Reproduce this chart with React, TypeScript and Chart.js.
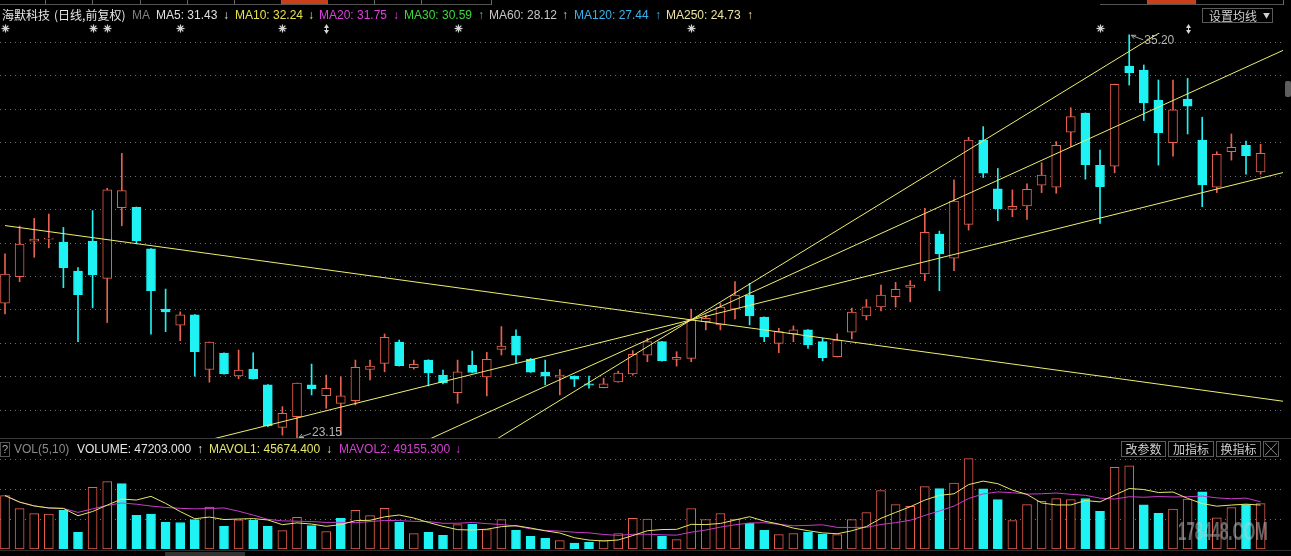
import React, { useEffect, useRef } from "react";
import { Chart, registerables } from "chart.js";

Chart.register(...registerables);

// ---------------- data (daily candles, 海默科技) ----------------
const opens = [
  27.19, 27.98, 29.04, 29.1, 29.01, 28.15, 29.04, 27.93, 30.04, 30.05,
  28.81, 27.01, 26.53, 26.84, 25.21, 25.7, 25.02, 25.22, 24.75, 23.48,
  23.8, 24.75, 24.43, 24.2, 24.28, 25.21, 25.39, 26.03, 25.26, 25.49,
  25.04, 24.52, 25.34, 24.99, 25.81, 26.21, 25.51, 25.13, 24.98, 25.01,
  24.78, 24.67, 24.84, 25.08, 25.64, 26.04, 25.51, 25.54, 26.64, 26.54,
  27.01, 27.43, 26.77, 25.99, 26.27, 26.39, 26.04, 25.59, 26.32, 26.81,
  27.08, 27.38, 27.66, 28.06, 29.25, 28.53, 29.54, 32.06, 30.6, 29.99,
  30.09, 30.71, 30.65, 32.29, 32.86, 31.3, 31.28, 34.27, 34.15, 33.25,
  31.98, 33.28, 32.06, 30.65, 31.71, 31.9, 31.11,
];
const highs = [
  28.66, 29.49, 29.72, 29.85, 29.45, 28.25, 29.95, 30.62, 31.66, 30.06,
  28.82, 27.61, 26.93, 26.85, 26.03, 25.71, 25.79, 25.71, 24.76, 24.1,
  24.8, 25.37, 25.04, 24.99, 25.49, 25.49, 26.27, 26.09, 25.49, 25.5,
  25.19, 25.49, 25.76, 25.72, 26.49, 26.39, 25.54, 25.49, 25.21, 25.02,
  25.01, 24.95, 25.16, 25.77, 26.14, 26.05, 25.74, 27.01, 26.84, 27.19,
  27.83, 27.78, 26.78, 26.44, 26.51, 26.4, 26.14, 26.27, 27.04, 27.3,
  27.73, 27.81, 27.86, 30.02, 29.34, 30.87, 32.14, 32.46, 31.21, 30.57,
  30.75, 31.38, 32.01, 33.02, 32.87, 31.76, 33.73, 35.2, 34.3, 33.85,
  33.85, 33.9, 32.74, 31.71, 32.24, 32.03, 31.93,
];
const lows = [
  26.87, 27.83, 28.56, 28.84, 27.65, 26.04, 27.05, 26.61, 29.5, 28.96,
  26.26, 26.34, 26.07, 25.01, 24.83, 25.07, 24.93, 24.92, 23.5, 23.25,
  23.15, 24.45, 24.05, 23.25, 24.15, 24.9, 25.14, 25.31, 25.22, 24.72,
  24.78, 24.2, 25.11, 24.42, 25.64, 25.39, 25.12, 24.75, 24.45, 24.7,
  24.65, 24.66, 24.83, 25.04, 25.44, 25.46, 25.31, 25.44, 26.39, 26.39,
  26.72, 26.54, 26.04, 25.71, 26.04, 25.84, 25.47, 25.58, 26.12, 26.69,
  26.96, 27.07, 27.23, 27.86, 27.56, 28.16, 29.37, 30.94, 29.65, 29.77,
  29.69, 30.49, 30.47, 31.86, 30.89, 29.57, 31.08, 33.7, 32.64, 31.31,
  31.58, 32.24, 30.07, 30.49, 31.46, 31.04, 31.04,
];
const closes = [
  28.06, 28.95, 29.1, 29.13, 28.25, 27.44, 28.03, 30.57, 30.55, 29.05,
  27.56, 26.93, 26.84, 25.74, 26.03, 25.08, 25.19, 24.93, 23.53, 23.9,
  24.8, 24.64, 24.65, 24.42, 25.27, 25.31, 26.17, 25.32, 25.36, 25.11,
  24.81, 25.14, 25.12, 25.51, 25.91, 25.64, 25.13, 25.01, 25.04, 24.92,
  24.74, 24.78, 25.1, 25.66, 26.04, 25.47, 25.57, 26.69, 26.74, 27.07,
  27.43, 26.81, 26.19, 26.34, 26.39, 25.94, 25.56, 26.09, 26.92, 27.08,
  27.43, 27.6, 27.73, 29.3, 28.66, 30.24, 32.06, 31.07, 30.01, 30.08,
  30.59, 31.01, 31.9, 32.76, 31.32, 30.67, 33.72, 34.07, 33.17, 32.28,
  32.96, 33.07, 30.72, 31.63, 31.84, 31.59, 31.66,
];
const volumes = [
  55540, 42020, 36820, 36400, 40250, 17370, 64170, 70100, 68020, 35050,
  36400, 27770, 27600, 30580, 43680, 23610, 30400, 29850, 23500, 19140,
  32970, 24340, 18100, 31930, 40100, 34740, 42330, 27770, 16020, 17300,
  14250, 25380, 25690, 20180, 30580, 19450, 13210, 11130, 8740, 6240,
  6970, 8800, 16100, 31800, 31200, 13300, 9780, 42100, 30700, 36900,
  31100, 27040, 19500, 14980, 16020, 17680, 15600, 15000, 30500, 37860,
  60740, 46180, 44410, 64900, 62820, 68640, 94020, 62700, 51380, 29540,
  46200, 49610, 52420, 51300, 52500, 39210, 84970, 86500, 46000, 37200,
  41500, 51981, 59500, 32500, 43000, 46169, 47203,
];

// price grid (yuan) and volume grid (shares)
const priceGridLines = [24, 25, 26, 27, 28, 29, 30, 31, 32, 33, 34, 35];
const volumeGridLines = [31200, 62400, 93600];

// hand-drawn trend lines: start/end (candle index, price)
const trendStartIdx = [0, 0, 20, 30];
const trendStartVal = [29.505, 21.59, 21.33, 22.15];
const trendEndIdx = [100, 100, 100, 100];
const trendEndVal = [23.515, 32.44, 37.21, 40.85];

// info markers above candles
const starMarkers = [0, 6, 7, 12, 19, 31, 47, 75];
const arrowMarkers = [22, 81];

// header moving-average readouts
const maNames = ["MA5", "MA10", "MA20", "MA30", "MA60", "MA120", "MA250"];
const maValues = ["31.43", "32.24", "31.75", "30.59", "28.12", "27.44", "24.73"];
const maArrows = ["↓", "↓", "↓", "↑", "↑", "↑", "↑"];

// ---------------- styling ----------------
const UP = "#e8604f";
const DOWN = "#1ef2f2";
const TREND = "#eeee70";
const MAV1 = "#e6e66a";
const MAV2 = "#c83cc8";
const maColors = ["#e0e0e0", "#e6e050", "#e040e0", "#3ed83e", "#c8c8c8", "#38b4ee", "#ece4a4"];
const maLeft = [156, 235, 319, 404, 489, 574, 666];
const maArrowLeft = [223, 308, 393, 478, 562, 655, 747];

const X_MIN = -0.3425;
const X_MAX = 87.534;
const Y_MIN = 23.164;
const Y_MAX = 35.254;
const VOL_MAX = 113360;
const FONT = "'Liberation Sans', Arial, 'Noto Sans CJK SC', sans-serif";
const CJK = "'Noto Sans CJK SC', 'Liberation Sans', sans-serif";

const idx = closes.map((_, i) => i);
const candleUp = (i: number) => closes[i] >= opens[i];
const volUp = (i: number) => (i === 0 ? closes[0] >= opens[0] : closes[i] >= closes[i - 1]);

function movingAverage(vals: number[], n: number) {
  return vals.map((_, i) => {
    const s = Math.max(0, i - n + 1);
    const w = vals.slice(s, i + 1);
    return w.reduce((a, b) => a + b, 0) / w.length;
  });
}
const mavol1 = movingAverage(volumes, 5);
const mavol2 = movingAverage(volumes, 10);
const last = volumes.length - 1;

function gridPlugin(values: number[]) {
  return {
    id: "dottedGrid",
    beforeDatasetsDraw(chart: any) {
      const { ctx, chartArea, scales } = chart;
      ctx.save();
      ctx.strokeStyle = "rgba(150,150,150,0.75)";
      ctx.lineWidth = 1;
      ctx.setLineDash([1, 4]);
      values.forEach((v) => {
        const y = Math.round(scales.y.getPixelForValue(v)) + 0.5;
        ctx.beginPath();
        ctx.moveTo(chartArea.left, y);
        ctx.lineTo(chartArea.right, y);
        ctx.stroke();
      });
      ctx.restore();
    },
  };
}

const markerPlugin = {
  id: "markers",
  afterDraw(chart: any) {
    const { ctx, scales } = chart;
    const xs = scales.x;
    const ys = scales.y;
    ctx.save();
    // stars
    ctx.strokeStyle = "#d4d4d4";
    ctx.fillStyle = "#d4d4d4";
    starMarkers.forEach((i) => {
      const x = Math.round(xs.getPixelForValue(i)) + 0.5;
      const y = 28.5;
      ctx.lineWidth = 1.2;
      for (let k = 0; k < 4; k++) {
        const a = (k * Math.PI) / 4;
        ctx.beginPath();
        ctx.moveTo(x - 4 * Math.cos(a), y - 4 * Math.sin(a));
        ctx.lineTo(x + 4 * Math.cos(a), y + 4 * Math.sin(a));
        ctx.stroke();
      }
      ctx.beginPath();
      ctx.arc(x, y, 2, 0, Math.PI * 2);
      ctx.fill();
    });
    // double arrows
    arrowMarkers.forEach((i) => {
      const x = Math.round(xs.getPixelForValue(i)) + 0.5;
      const y = 29;
      ctx.beginPath();
      ctx.moveTo(x - 2.5, y - 1);
      ctx.lineTo(x + 2.5, y - 1);
      ctx.lineTo(x, y - 5);
      ctx.closePath();
      ctx.fill();
      ctx.beginPath();
      ctx.moveTo(x - 2.5, y + 1);
      ctx.lineTo(x + 2.5, y + 1);
      ctx.lineTo(x, y + 5);
      ctx.closePath();
      ctx.fill();
      ctx.fillRect(x - 0.5, y - 2, 1, 4);
    });
    // high / low labels
    let hi = 0;
    let lo = 0;
    idx.forEach((i) => {
      if (highs[i] > highs[hi]) hi = i;
      if (lows[i] < lows[lo]) lo = i;
    });
    ctx.font = "12px " + FONT;
    ctx.textBaseline = "middle";
    ctx.strokeStyle = "#a8a8a8";
    ctx.fillStyle = "#b4b4b4";
    ctx.lineWidth = 1;
    const hx = xs.getPixelForValue(hi);
    const hy = ys.getPixelForValue(highs[hi]);
    ctx.beginPath();
    ctx.moveTo(hx + 2, hy + 0.5);
    ctx.lineTo(hx + 14, hy + 5);
    ctx.moveTo(hx + 2, hy + 0.5);
    ctx.lineTo(hx + 7, hy + 0.5);
    ctx.moveTo(hx + 2, hy + 0.5);
    ctx.lineTo(hx + 5, hy + 4);
    ctx.stroke();
    ctx.fillText(highs[hi].toFixed(2), hx + 15, hy + 6);
    const lx = xs.getPixelForValue(lo);
    const ly = ys.getPixelForValue(lows[lo]);
    ctx.beginPath();
    ctx.moveTo(lx + 2, ly - 1);
    ctx.lineTo(lx + 14, ly - 5);
    ctx.moveTo(lx + 2, ly - 1);
    ctx.lineTo(lx + 7, ly - 1);
    ctx.moveTo(lx + 2, ly - 1);
    ctx.lineTo(lx + 5, ly - 4.5);
    ctx.stroke();
    ctx.fillText(lows[lo].toFixed(2), lx + 15, ly - 5.5);
    ctx.restore();
  },
};

const baseOptions = (yMin: number, yMax: number, padding: any) => ({
  responsive: false,
  animation: false as const,
  events: [] as any[],
  layout: { padding },
  plugins: { legend: { display: false }, tooltip: { enabled: false } },
  scales: {
    x: { type: "linear" as const, min: X_MIN, max: X_MAX, display: false, offset: false },
    y: { type: "linear" as const, min: yMin, max: yMax, display: false },
  },
});

export default function App() {
  const priceRef = useRef<HTMLCanvasElement | null>(null);
  const volRef = useRef<HTMLCanvasElement | null>(null);

  useEffect(() => {
    const trendSets = trendStartIdx.map((s, k) => ({
      type: "line" as const,
      data: [
        { x: s, y: trendStartVal[k] },
        { x: trendEndIdx[k], y: trendEndVal[k] },
      ],
      borderColor: TREND,
      borderWidth: 1,
      pointRadius: 0,
      order: 1,
    }));

    const priceChart = new Chart(priceRef.current as HTMLCanvasElement, {
      type: "bar",
      data: {
        datasets: [
          {
            type: "bar",
            data: idx.map((i) => ({ x: i, y: [lows[i], highs[i]] })) as any,
            backgroundColor: idx.map((i) => (candleUp(i) ? UP : DOWN)),
            borderWidth: 0,
            barThickness: 1,
            grouped: false,
            order: 3,
          },
          {
            type: "bar",
            data: idx.map((i) => ({ x: i, y: [opens[i], closes[i]] })) as any,
            backgroundColor: idx.map((i) => (candleUp(i) ? "#000000" : DOWN)),
            borderColor: idx.map((i) => (candleUp(i) ? UP : DOWN)),
            borderWidth: 1,
            borderSkipped: false,
            barThickness: 9,
            grouped: false,
            order: 2,
          },
          ...(trendSets as any[]),
        ],
      },
      options: baseOptions(Y_MIN, Y_MAX, { left: 0, right: 8, top: 33, bottom: 0 }) as any,
      plugins: [gridPlugin(priceGridLines), markerPlugin],
    });

    const volChart = new Chart(volRef.current as HTMLCanvasElement, {
      type: "bar",
      data: {
        datasets: [
          {
            type: "bar",
            data: idx.map((i) => ({ x: i, y: volumes[i] })) as any,
            backgroundColor: idx.map((i) => (volUp(i) ? "#000000" : DOWN)),
            borderColor: idx.map((i) => (volUp(i) ? UP : DOWN)),
            borderWidth: 1,
            borderSkipped: false,
            barThickness: 9,
            grouped: false,
            order: 2,
          },
          {
            type: "line",
            data: idx.map((i) => ({ x: i, y: mavol1[i] })),
            borderColor: MAV1,
            borderWidth: 1,
            pointRadius: 0,
            order: 1,
          },
          {
            type: "line",
            data: idx.map((i) => ({ x: i, y: mavol2[i] })),
            borderColor: MAV2,
            borderWidth: 1,
            pointRadius: 0,
            order: 1,
          },
        ] as any[],
      },
      options: baseOptions(0, VOL_MAX, { left: 0, right: 8, top: 2, bottom: 7 }) as any,
      plugins: [gridPlugin(volumeGridLines)],
    });

    return () => {
      priceChart.destroy();
      volChart.destroy();
    };
  }, []);

  const txt = (left: number, top: number, color: string, s: string, font = FONT, extra: any = {}) => (
    <span
      style={{
        position: "absolute",
        left,
        top,
        color,
        fontFamily: font,
        fontSize: 12,
        lineHeight: "14px",
        whiteSpace: "nowrap",
        ...extra,
      }}
    >
      {s}
    </span>
  );

  const box = (left: number, top: number, width: number, height: number, label: string) => (
    <div
      style={{
        position: "absolute",
        left,
        top,
        width,
        height,
        boxSizing: "border-box",
        border: "1px solid #5a5a5a",
        color: "#cfcfcf",
        fontFamily: CJK,
        fontSize: 12,
        lineHeight: height - 2 + "px",
        textAlign: "center",
        whiteSpace: "nowrap",
      }}
    >
      {label}
    </div>
  );

  const toolbarSeps = [45, 92, 140, 187, 234, 281, 327, 374, 421, 491, 1147, 1195, 1283];
  const vArrow = (a: number, b: number) => (a >= b ? "↑" : "↓");

  return (
    <div
      style={{
        position: "fixed",
        left: 0,
        top: 0,
        width: 1291,
        height: 556,
        background: "#000",
        overflow: "hidden",
      }}
    >
      {/* top toolbar strip */}
      <div style={{ position: "absolute", left: 281, top: 0, width: 46, height: 4, background: "#c8401a" }} />
      <div style={{ position: "absolute", left: 1147, top: 0, width: 48, height: 4, background: "#c8401a" }} />
      <div style={{ position: "absolute", left: 0, top: 4, width: 491, height: 1, background: "#555" }} />
      <div style={{ position: "absolute", left: 1100, top: 4, width: 183, height: 1, background: "#555" }} />
      {toolbarSeps.map((x) => (
        <div key={x} style={{ position: "absolute", left: x, top: 0, width: 1, height: 5, background: "#666" }} />
      ))}

      <canvas
        ref={priceRef}
        width={1291}
        height={438}
        style={{ position: "absolute", left: 0, top: 0, display: "block" }}
      />
      <div style={{ position: "absolute", left: 0, top: 438, width: 1291, height: 1, background: "#3a3a3a" }} />
      <canvas
        ref={volRef}
        width={1291}
        height={118}
        style={{ position: "absolute", left: 0, top: 438, display: "block" }}
      />

      {/* price header */}
      {txt(2, 8, "#e6e6e6", "海默科技", CJK)}
      {txt(54, 8, "#e6e6e6", "(日线,前复权)", CJK)}
      {txt(132, 8, "#808080", "MA")}
      {maNames.map((n, k) => (
        <React.Fragment key={n}>
          {txt(maLeft[k], 8, maColors[k], n + ": " + maValues[k])}
          {txt(maArrowLeft[k], 8, maColors[k], maArrows[k])}
        </React.Fragment>
      ))}
      {/* 设置均线 button */}
      <div
        style={{
          position: "absolute",
          left: 1202,
          top: 8,
          width: 71,
          height: 15,
          boxSizing: "border-box",
          border: "1px solid #5a5a5a",
          color: "#cfcfcf",
          fontFamily: CJK,
          fontSize: 12,
          lineHeight: "13px",
          paddingLeft: 6,
          whiteSpace: "nowrap",
        }}
      >
        设置均线
        <span style={{ position: "absolute", left: 60, top: 1, fontSize: 7, lineHeight: "11px" }}>▼</span>
      </div>

      {/* volume header */}
      <div
        style={{
          position: "absolute",
          left: 0,
          top: 442,
          width: 10,
          height: 15,
          boxSizing: "border-box",
          border: "1px solid #555",
          color: "#aaa",
          fontFamily: FONT,
          fontSize: 11,
          lineHeight: "13px",
          textAlign: "center",
        }}
      >
        ?
      </div>
      {txt(14, 442, "#8a8a8a", "VOL(5,10)")}
      {txt(77, 442, "#e6e6e6", "VOLUME: " + volumes[last].toFixed(3))}
      {txt(197, 442, "#e6e6e6", vArrow(volumes[last], volumes[last - 1]))}
      {txt(209, 442, MAV1, "MAVOL1: " + mavol1[last].toFixed(3))}
      {txt(326, 442, MAV1, vArrow(mavol1[last], mavol1[last - 1]))}
      {txt(339, 442, "#d040d0", "MAVOL2: " + mavol2[last].toFixed(3))}
      {txt(455, 442, "#d040d0", vArrow(mavol2[last], mavol2[last - 1]))}
      {box(1121, 441, 45, 16, "改参数")}
      {box(1168, 441, 46, 16, "加指标")}
      {box(1216, 441, 45, 16, "换指标")}
      {box(1263, 441, 16, 16, "╳")}

      {/* scrollbar thumb */}
      <div style={{ position: "absolute", left: 1285, top: 81, width: 6, height: 16, background: "#5e5e5e", borderRadius: 2 }} />

      {/* bottom strip */}
      <div style={{ position: "absolute", left: 0, top: 550, width: 1291, height: 1, background: "#2e2e2e" }} />
      <div style={{ position: "absolute", left: 165, top: 552, width: 80, height: 4, background: "#333" }} />

      {/* watermark */}
      <span
        style={{
          position: "absolute",
          left: 1178,
          top: 516,
          color: "rgba(200,200,200,0.5)",
          fontFamily: "'Liberation Sans', sans-serif",
          fontWeight: "bold",
          fontSize: 26,
          lineHeight: "30px",
          whiteSpace: "nowrap",
          display: "inline-block",
          transform: "scaleX(0.58)",
          transformOrigin: "0 50%",
        }}
      >
        178448.COM
      </span>
    </div>
  );
}
